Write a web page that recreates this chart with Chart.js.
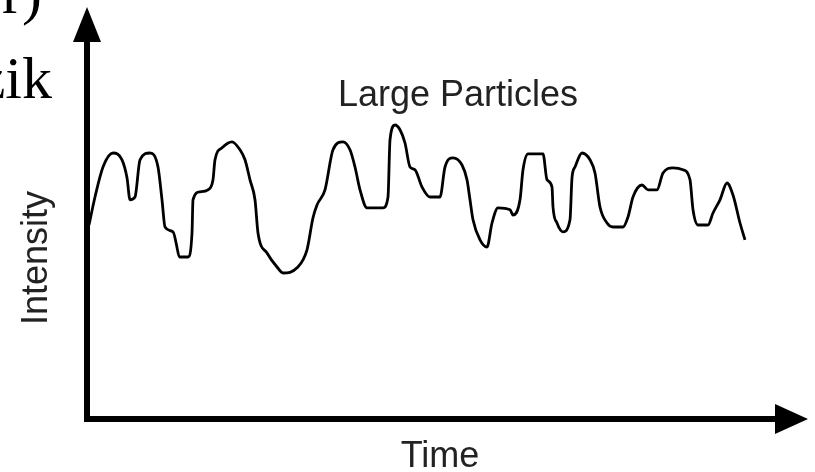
<!DOCTYPE html>
<html>
<head>
<meta charset="utf-8">
<script src="https://cdn.jsdelivr.net/npm/chart.js@4/dist/chart.umd.min.js"></script>
<style>
  html, body { margin: 0; padding: 0; background: #fff; }
  canvas { display: block; }
</style>
</head>
<body>
<canvas id="signalChart" width="815" height="472"></canvas>
<script>
// time axis, arbitrary units
const timeValues = [
  0.4, 1.6, 3.2, 5.2, 7, 8, 8.6, 9.6, 10.6, 12.6,
  14.2, 15, 15.6, 17.2, 18.6, 20.2, 21, 21.2, 22.6, 24.2,
  25.2, 25.6, 27, 29, 30.6, 31.6, 32.6, 33.6, 34.2, 36,
  38, 39.2, 42, 44, 45.2, 46, 47.6, 49.2, 51.2, 52.6,
  53.6, 54.6, 56, 59.2, 60.2, 60.6, 61.6, 62.6, 63.6, 64.6,
  65.6, 67, 68.6, 70.6, 71.6, 73.2, 75, 76, 76.6, 77.2,
  78.6, 80, 81, 82.2, 84.6, 85.2, 86.6, 87.2, 88.2, 91.2,
  92, 93, 93.2, 94, 95.2, 96.6, 97, 97.6, 99, 100.6,
  101.6, 102.6, 104, 105.2, 107.2, 108.2, 109.2, 111, 112.2, 114,
  115.2, 117.2, 119.2, 120.6, 121.2, 122.2, 124.2, 125.2, 126.6, 128,
  129.2, 130.6, 131.6
];
// scattered light intensity, arbitrary units
const intensityValues = [
  48.5, 55.5, 63, 66.5, 64.8, 60.3, 54.8, 55.5, 64.8, 66.5,
  63, 54.8, 48, 46.8, 40.5, 40.5, 46.5, 54.8, 56.8, 57.3,
  59.8, 64.8, 67.8, 69.3, 67.3, 64.8, 59.8, 54.8, 46.5, 41.5,
  38, 36.5, 37.8, 42.3, 50.3, 53.5, 57.3, 67.3, 69.3, 67.3,
  63, 57.3, 52.8, 52.8, 55.5, 69.8, 73.5, 72.3, 69, 63,
  62.3, 58, 55.5, 55.5, 63, 65.3, 63.5, 59.8, 54.8, 49.8,
  44.8, 43, 49, 52.8, 52.3, 51, 54.8, 62.3, 66.3, 66.3,
  59.8, 58, 53, 49, 46.8, 49.8, 60.3, 63, 66.5, 64.8,
  61.5, 53, 49, 48, 48, 50.5, 55.5, 58.5, 57.3, 57.3,
  61.5, 62.8, 62.3, 59.8, 52.3, 48.5, 48.5, 51.5, 54.8, 59,
  56, 49, 44.8
];
const timeMax = 144.2;
const intensityMax = 103;

const seriesLabel = 'Large Particles';
const xTitle = 'Time';
const yTitle = 'Intensity';
// clipped caption fragments at the top left of the source figure
const captionBits = ['er)', 'zik'];

const points = timeValues.map((t, i) => ({ x: t, y: intensityValues[i] }));

// axes with arrow heads + labels
const arrowAxes = {
  id: 'arrowAxes',
  afterDatasetsDraw(chart) {
    const { ctx, chartArea } = chart;
    const { left, right, top, bottom } = chartArea;
    ctx.save();
    ctx.strokeStyle = '#000';
    ctx.fillStyle = '#000';
    ctx.lineWidth = 6;
    ctx.lineCap = 'square';

    ctx.beginPath();
    ctx.moveTo(left, top + 30);
    ctx.lineTo(left, bottom);
    ctx.lineTo(right - 28, bottom);
    ctx.stroke();

    // y arrow
    ctx.beginPath();
    ctx.moveTo(left, top);
    ctx.lineTo(left - 14, top + 35);
    ctx.lineTo(left + 14, top + 35);
    ctx.closePath();
    ctx.fill();

    // x arrow
    ctx.beginPath();
    ctx.moveTo(right, bottom);
    ctx.lineTo(right - 33, bottom - 15);
    ctx.lineTo(right - 33, bottom + 15);
    ctx.closePath();
    ctx.fill();

    ctx.fillStyle = '#222';
    ctx.font = '36px "Liberation Sans", Arial, sans-serif';
    ctx.textAlign = 'center';
    ctx.textBaseline = 'alphabetic';
    ctx.fillText(seriesLabel, 458, 106);
    ctx.fillText(xTitle, 440, 467);

    ctx.save();
    ctx.translate(47, 258);
    ctx.rotate(-Math.PI / 2);
    ctx.fillText(yTitle, 0, 0);
    ctx.restore();

    ctx.fillStyle = '#000';
    ctx.font = '60px "Liberation Serif", "Times New Roman", serif';
    ctx.textAlign = 'right';
    ctx.fillText(captionBits[0], 42, 13);
    ctx.fillText(captionBits[1], 52, 98);
    ctx.restore();
  }
};

new Chart(document.getElementById('signalChart'), {
  type: 'line',
  data: {
    datasets: [{
      label: seriesLabel,
      data: points,
      borderColor: '#000',
      borderWidth: 2.8,
      pointRadius: 0,
      cubicInterpolationMode: 'monotone',
      fill: false
    }]
  },
  options: {
    responsive: false,
    animation: false,
    layout: {
      padding: { left: 87, right: 7, top: 7, bottom: 53 }
    },
    plugins: {
      legend: { display: false },
      tooltip: { enabled: false },
      title: { display: false }
    },
    scales: {
      x: { type: 'linear', display: false, min: 0, max: timeMax },
      y: { type: 'linear', display: false, min: 0, max: intensityMax }
    }
  },
  plugins: [arrowAxes]
});
</script>
</body>
</html>
